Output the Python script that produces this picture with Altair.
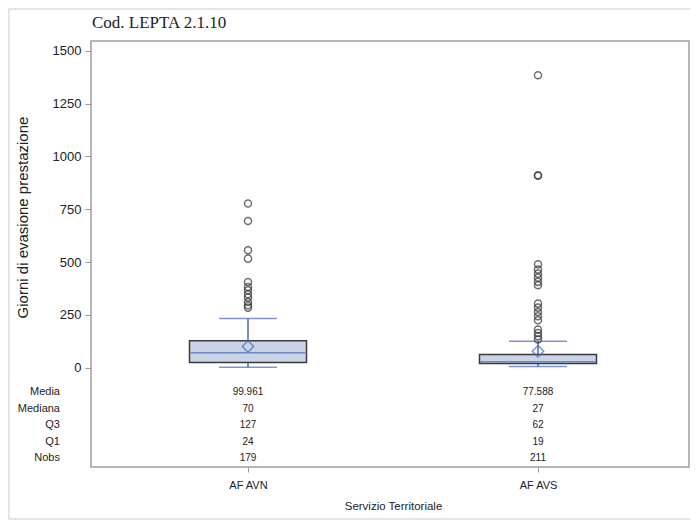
import altair as alt
import pandas as pd

# ---- data ----
categories = ["AF AVN", "AF AVS"]
q1 = [24, 19]
median = [70, 27]
q3 = [127, 62]
mean = [99.961, 77.588]
nobs = [179, 211]
whisker_low = [2, 5]
whisker_high = [232, 125]

outliers_avn = [777, 694, 556, 516, 405, 382, 366, 347, 332, 311, 295, 284]
outliers_avs = [1385, 911, 909, 489, 464, 445, 426, 406, 390, 303, 284, 263,
                243, 224, 180, 164, 148, 133]

stat_names = ["Media", "Mediana", "Q3", "Q1", "Nobs"]
y_ticks = [0, 250, 500, 750, 1000, 1250, 1500]
chart_title = "Cod. LEPTA 2.1.10"

# ---- tables ----
box_df = pd.DataFrame({
    "cat": categories, "q1": q1, "median": median, "q3": q3,
    "mean": mean, "lo": whisker_low, "hi": whisker_high,
})
out_df = pd.DataFrame({
    "cat": ["AF AVN"] * len(outliers_avn) + ["AF AVS"] * len(outliers_avs),
    "value": outliers_avn + outliers_avs,
})
rows = []
for i, c in enumerate(categories):
    vals = [f"{mean[i]:.3f}", str(median[i]), str(q3[i]), str(q1[i]), str(nobs[i])]
    for s, v in zip(stat_names, vals):
        rows.append({"cat": c, "stat": s, "label": v})
stats_df = pd.DataFrame(rows)
names_df = pd.DataFrame({"stat": stat_names})
title_df = pd.DataFrame({"t": [chart_title]})

BLUE = "#4a68b8"
FILL = "#c9d4e6"
EDGE = "#3a3a3a"
SANS = "Liberation Sans"

xscale = alt.Scale(type="point", domain=categories, range=[157, 447], padding=0)
xenc = alt.X(
    "cat:N",
    scale=xscale,
    axis=alt.Axis(title="Servizio Territoriale", labelAngle=0, domain=False,
                  tickSize=5, tickColor="#9a9a9a", labelPadding=7,
                  labelFont=SANS, labelFontSize=11, labelColor="#222",
                  titleFont=SANS, titleFontSize=11.5, titleFontWeight="normal",
                  titleColor="#222", titlePadding=10),
)
yscale = alt.Scale(domain=[-471, 1547], nice=False, zero=False)
yaxis = alt.Axis(title="Giorni di evasione prestazione", values=y_ticks,
                 format="d", grid=False, domain=False, tickSize=6,
                 tickColor="#9a9a9a", labelPadding=4, labelFont=SANS,
                 labelFontSize=13, labelColor="#222", titleFont=SANS,
                 titleFontSize=15, titleFontWeight="normal", titleColor="#222",
                 titleX=-61, titleY=176, titleBaseline="bottom",
                 titleAlign="center")

base = alt.Chart(box_df).encode(x=xenc)

whisk = base.mark_rule(color=BLUE, strokeWidth=1.5).encode(
    y=alt.Y("lo:Q", scale=yscale, axis=yaxis), y2="hi:Q")
box = base.mark_bar(size=117, color=FILL, stroke=EDGE, strokeWidth=1.5).encode(
    y=alt.Y("q1:Q", scale=yscale), y2="q3:Q")
med = base.mark_tick(size=115, thickness=1.5, color=BLUE).encode(
    y=alt.Y("median:Q", scale=yscale))
cap_lo = base.mark_tick(size=58, thickness=1.5, color=BLUE).encode(
    y=alt.Y("lo:Q", scale=yscale))
cap_hi = base.mark_tick(size=58, thickness=1.5, color=BLUE).encode(
    y=alt.Y("hi:Q", scale=yscale))
mean_pt = base.mark_point(shape="diamond", size=130, filled=False, color=BLUE,
                          strokeWidth=1.5).encode(y=alt.Y("mean:Q", scale=yscale))
outl = alt.Chart(out_df).mark_point(shape="circle", size=50, filled=False,
                                    color="#333", strokeWidth=1.5).encode(
    x=alt.X("cat:N", scale=xscale),
    y=alt.Y("value:Q", scale=yscale))

quant = alt.layer(whisk, box, med, cap_lo, cap_hi, mean_pt, outl)

sscale = alt.Scale(type="point", domain=stat_names, range=[351, 417], padding=0)
vals = alt.Chart(stats_df).mark_text(font=SANS, fontSize=10, color="#222").encode(
    x=alt.X("cat:N", scale=xscale),
    y=alt.Y("stat:N", scale=sscale, axis=None),
    text="label:N")
labs = alt.Chart(names_df).mark_text(font=SANS, fontSize=11, color="#222",
                                     align="right").encode(
    x=alt.value(-31),
    y=alt.Y("stat:N", scale=sscale, axis=None),
    text="stat:N")
table = alt.layer(vals, labs)

border = alt.Chart(pd.DataFrame({"d": [0]})).mark_rect(
    fill=None, stroke="#dcdcdc", strokeWidth=1.5).encode(
    x=alt.value(-82), x2=alt.value(640), y=alt.value(-32), y2=alt.value(478))

title_mark = alt.Chart(title_df).mark_text(
    font="Liberation Serif", fontSize=17, color="#222", align="left",
    baseline="alphabetic").encode(
    x=alt.value(1), y=alt.value(-13), text="t:N")

chart = alt.layer(border, title_mark, quant, table).resolve_scale(
    y="independent").properties(
    width=598, height=426,
    autosize=alt.AutoSizeParams(type="none"),
    padding={"left": 83, "top": 33, "right": 1, "bottom": 54},
).configure_view(stroke="#9e9e9e", strokeWidth=1.5)

chart.save("out.html", embed_options={"renderer": "svg", "actions": False})
